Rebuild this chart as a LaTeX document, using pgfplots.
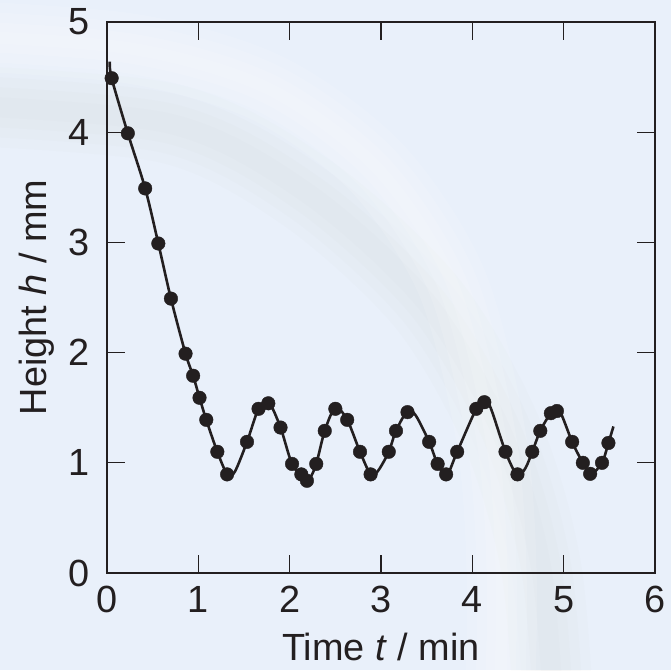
\documentclass[border=0pt]{standalone}
\usepackage{pgfplots}
\pgfplotsset{compat=1.18}
\usepackage{fontspec}
\setmainfont{Liberation Sans}
\usetikzlibrary{backgrounds}
\definecolor{bgc}{RGB}{233,240,250}
\definecolor{ink}{RGB}{35,31,32}
\begin{document}
\begin{tikzpicture}[x=1bp,y=1bp]
\begin{axis}[
  name=ax,
  scale only axis,
  width=548bp, height=551bp,
  xmin=0, xmax=6, ymin=0, ymax=5,
  xtick={0,1,2,3,4,5,6}, ytick={0,1,2,3,4,5},
  tick align=inside,
  major tick length=18bp,
  tick style={line width=1.3bp, ink},
  axis line style={line width=2bp, ink},
  /pgf/number format/assume math mode=true,
  tick label style={font=\fontsize{38}{44}\selectfont, inner sep=0pt, text=ink},
  yticklabel style={anchor=east, xshift=-17bp},
  xticklabel style={anchor=north, yshift=-13bp},
  xlabel={Time \textit{t} / min},
  ylabel={Height \textit{h} / mm},
  label style={font=\fontsize{38}{44}\selectfont, text=ink, inner sep=0pt},
  xlabel style={at={(axis description cs:0.5,0)}, anchor=base, yshift=-87bp},
  ylabel style={at={(axis description cs:0,0.5)}, anchor=base, yshift=60bp},
  clip=false,
]
\addplot[ink, line width=2.6bp, smooth, tension=0.5] coordinates {
(0.03,4.64)(0.051,4.49)(0.228,3.99)(0.418,3.49)(0.562,2.99)(0.70,2.49)(0.86,1.99)(0.943,1.79)(1.013,1.59)(1.087,1.39)(1.208,1.10)(1.32,0.89)(1.40,0.92)(1.533,1.19)(1.659,1.49)(1.77,1.55)(1.90,1.32)(2.026,0.99)(2.16,0.86)(2.22,0.86)(2.291,0.99)(2.384,1.29)(2.50,1.50)(2.63,1.39)(2.77,1.10)(2.89,0.89)(2.97,0.93)(3.085,1.10)(3.164,1.29)(3.29,1.47)(3.38,1.43)(3.527,1.19)(3.62,0.99)(3.72,0.89)(3.834,1.10)(4.043,1.49)(4.13,1.56)(4.20,1.50)(4.363,1.10)(4.49,0.89)(4.58,0.95)(4.656,1.10)(4.744,1.29)(4.86,1.45)(4.95,1.48)(5.093,1.19)(5.21,1.00)(5.30,0.90)(5.42,1.00)(5.49,1.18)(5.545,1.33)
};
\addplot[only marks, mark=*, mark size=6.8bp, ink, mark options={fill=ink, draw=ink}] coordinates {
(0.051,4.49)(0.228,3.99)(0.418,3.49)(0.562,2.99)(0.70,2.49)(0.86,1.99)(0.943,1.79)(1.013,1.59)(1.087,1.39)(1.208,1.10)(1.315,0.895)(1.533,1.19)(1.659,1.49)(1.766,1.54)(1.90,1.32)(2.026,0.99)(2.128,0.895)(2.189,0.837)(2.291,0.99)(2.384,1.29)(2.50,1.49)(2.63,1.39)(2.77,1.10)(2.886,0.895)(3.085,1.10)(3.164,1.29)(3.29,1.46)(3.527,1.19)(3.62,0.99)(3.713,0.895)(3.834,1.10)(4.043,1.49)(4.131,1.55)(4.363,1.10)(4.494,0.895)(4.656,1.10)(4.744,1.29)(4.86,1.45)(4.926,1.47)(5.093,1.19)(5.21,1.00)(5.29,0.90)(5.42,1.00)(5.49,1.18)
};
\end{axis}
\begin{scope}[on background layer, shift={(ax.south west)}]
\fill[bgc] (-107,-97) rectangle (564,573);
\begin{scope}
\clip (-107,-97) rectangle (564,573);
\foreach \w in {80,60,40,20}{
  \draw[gray!50, line width=\w bp, opacity=0.04] plot[smooth] coordinates {(-200,470) (60,450) (200,380) (320,270) (395,140) (435,0) (450,-200)};
}
\foreach \w in {70,50,30,12}{
  \draw[white, line width=\w bp, opacity=0.12] plot[smooth] coordinates {(-200,540) (20,525) (160,485) (270,405) (345,290) (385,130) (395,-20) (390,-200)};
}
\end{scope}
\end{scope}
\pgfresetboundingbox
\useasboundingbox ([xshift=-107bp,yshift=-97bp]ax.south west) rectangle ([xshift=16bp,yshift=22bp]ax.north east);
\end{tikzpicture}
\end{document}
